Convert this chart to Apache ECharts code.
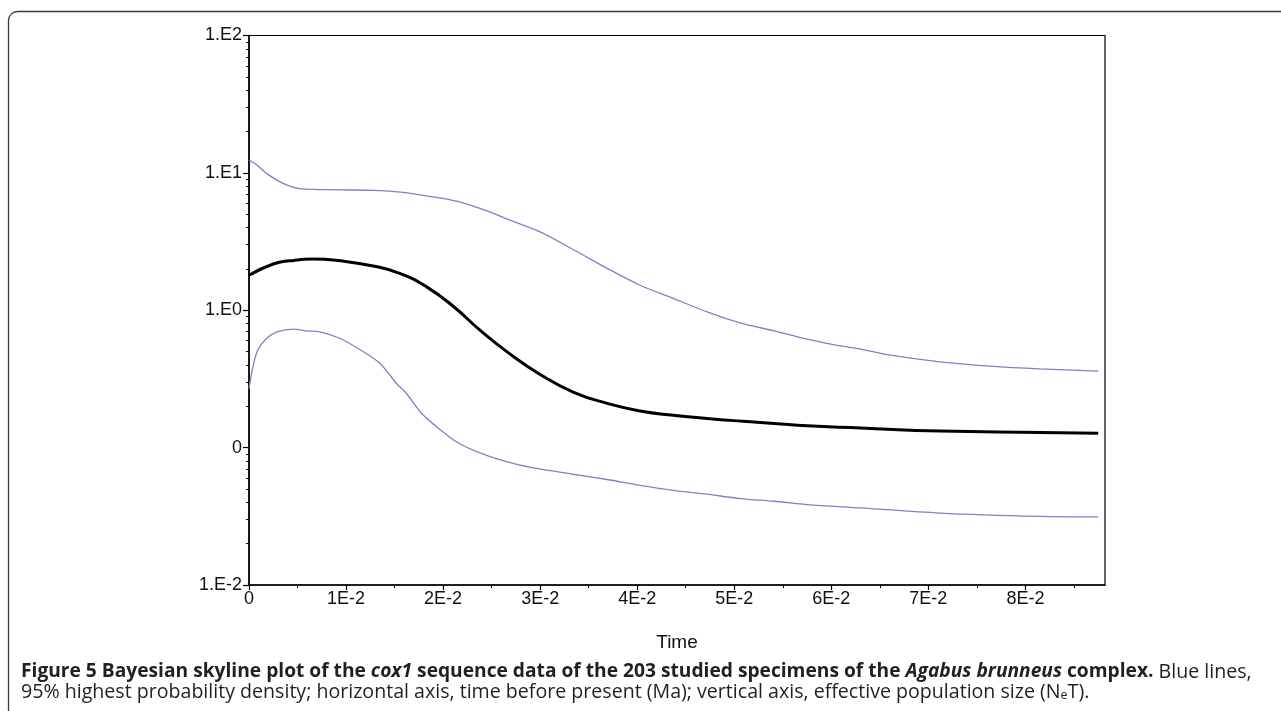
<!DOCTYPE html>
<html>
<head>
<meta charset="utf-8">
<script src="https://cdn.jsdelivr.net/npm/echarts@6/dist/echarts.min.js"></script>
<style>
  html, body { margin: 0; padding: 0; background: #fff; }
  #chart { width: 1281px; height: 711px; }
</style>
</head>
<body>
<div id="chart"></div>
<script>
// upper 95% HPD (blue)
const upperTime = [0, 0.0008, 0.0018, 0.0035, 0.0054, 0.0094, 0.0128, 0.0156, 0.0183, 0.0214, 0.0248, 0.0266, 0.0300, 0.0334, 0.0369, 0.0403, 0.0437, 0.0472, 0.0506, 0.0541, 0.0575, 0.0602, 0.0630, 0.0661, 0.0712, 0.0764, 0.0815, 0.0875]
const upperNe = [12.4, 11.4, 9.92, 8.39, 7.66, 7.53, 7.46, 7.25, 6.81, 6.23, 5.21, 4.61, 3.72, 2.77, 2.02, 1.52, 1.22, 0.974, 0.810, 0.708, 0.616, 0.563, 0.521, 0.471, 0.421, 0.392, 0.374, 0.360]

// median (black)
const medianTime = [0, 0.0025, 0.0042, 0.0066, 0.0094, 0.0128, 0.0156, 0.0183, 0.0211, 0.0238, 0.0266, 0.0300, 0.0334, 0.0369, 0.0403, 0.0437, 0.0472, 0.0506, 0.0541, 0.0575, 0.0630, 0.0712, 0.0815, 0.0875]
const medianNe = [1.80, 2.17, 2.29, 2.36, 2.29, 2.10, 1.85, 1.48, 1.06, 0.716, 0.498, 0.341, 0.254, 0.210, 0.185, 0.172, 0.163, 0.156, 0.150, 0.144, 0.139, 0.132, 0.129, 0.127]

// lower 95% HPD (blue)
const lowerTime = [0, 0.0004, 0.0009, 0.0018, 0.0029, 0.0046, 0.0059, 0.0073, 0.0094, 0.0114, 0.0135, 0.0152, 0.0161, 0.0178, 0.0197, 0.0214, 0.0238, 0.0266, 0.0293, 0.0334, 0.0369, 0.0403, 0.0437, 0.0472, 0.0506, 0.0541, 0.0575, 0.0630, 0.0712, 0.0815, 0.0875]
const lowerNe = [0.269, 0.387, 0.512, 0.623, 0.696, 0.728, 0.708, 0.696, 0.623, 0.518, 0.410, 0.293, 0.254, 0.177, 0.135, 0.110, 0.0915, 0.0787, 0.0711, 0.0640, 0.0586, 0.0532, 0.0489, 0.0458, 0.0426, 0.0407, 0.0385, 0.0364, 0.0334, 0.0316, 0.0313]

// axis ticks
const xTickValues = [0, 0.01, 0.02, 0.03, 0.04, 0.05, 0.06, 0.07, 0.08]
const xTickLabels = ['0', '1E-2', '2E-2', '3E-2', '4E-2', '5E-2', '6E-2', '7E-2', '8E-2']
const xMinorTicks = [0.005, 0.015, 0.025, 0.035, 0.045, 0.055, 0.065, 0.075, 0.085]
const yTickValues = [0.01, 0.1, 1, 10, 100]
const yTickLabels = ['1.E-2', '0', '1.E0', '1.E1', '1.E2']
const yMinorTicks = [0.02, 0.03, 0.04, 0.05, 0.06, 0.07, 0.08, 0.09,
  0.2, 0.3, 0.4, 0.5, 0.6, 0.7, 0.8, 0.9,
  2, 3, 4, 5, 6, 7, 8, 9,
  20, 30, 40, 50, 60, 70, 80, 90]

const captionLine1 = '{b|Figure 5 Bayesian skyline plot of the }{bi|cox1}{b| sequence data of the 203 studied specimens of the }{bi|Agabus brunneus}{b| complex.}{r| Blue lines,}'
const captionLine2 = '{r|95% highest probability density; horizontal axis, time before present (Ma); vertical axis, effective population size (N}{sub|e}{r|T).}'

const pairs = (xs, ys) => xs.map((x, i) => [x, ys[i]])

const axisFont = 'Liberation Sans, Arial, sans-serif'
const capFont = 'Open Sans, sans-serif'
const X_MAX = 0.0882

const chart = echarts.init(document.getElementById('chart'))
chart.setOption({
  animation: false,
  backgroundColor: '#fff',
  title: {
    left: 16,
    top: 657,
    text: captionLine1 + '\n' + captionLine2,
    textStyle: {
      fontWeight: 'normal',
      lineHeight: 20,
      rich: {
        b: { fontFamily: capFont, fontSize: 19.2, fontWeight: 'bold', color: '#231f20', lineHeight: 20 },
        bi: { fontFamily: capFont, fontSize: 19.2, fontWeight: 'bold', fontStyle: 'italic', color: '#231f20', lineHeight: 20 },
        r: { fontFamily: capFont, fontSize: 19.6, fontWeight: 'normal', color: '#231f20', lineHeight: 20 },
        sub: { fontFamily: capFont, fontSize: 12.5, fontWeight: 'normal', color: '#231f20', lineHeight: 12, verticalAlign: 'bottom' }
      }
    }
  },
  graphic: [{
    type: 'rect',
    silent: true,
    shape: { x: 8.5, y: 11.5, width: 1400, height: 900, r: 9 },
    style: { fill: 'none', stroke: '#3a3a3a', lineWidth: 1.3 }
  }],
  grid: {
    left: 249,
    right: 176,
    top: 35.5,
    bottom: 126,
    show: true,
    borderColor: '#000',
    borderWidth: 1.2
  },
  xAxis: [{
    type: 'value',
    min: 0,
    max: X_MAX,
    name: 'Time',
    nameLocation: 'middle',
    nameGap: 48,
    nameTextStyle: { fontFamily: axisFont, fontSize: 19, color: '#111' },
    splitLine: { show: false },
    axisLine: { show: true, onZero: false, lineStyle: { color: '#000', width: 1.5 } },
    axisTick: { show: true, length: 5, customValues: xTickValues, lineStyle: { color: '#000', width: 1.2 } },
    axisLabel: {
      customValues: xTickValues,
      margin: 5,
      fontFamily: axisFont,
      fontSize: 18,
      color: '#111',
      formatter: v => xTickLabels[xTickValues.findIndex(t => Math.abs(t - v) < 1e-9)]
    }
  }, {
    type: 'value',
    min: 0,
    max: X_MAX,
    position: 'bottom',
    splitLine: { show: false },
    axisLine: { show: false },
    axisTick: { show: true, length: 3, customValues: xMinorTicks, lineStyle: { color: '#000', width: 1 } },
    axisLabel: { show: false }
  }],
  yAxis: [{
    type: 'log',
    logBase: 10,
    min: 0.01,
    max: 100,
    splitLine: { show: false },
    axisLine: { show: true, lineStyle: { color: '#000', width: 1.5 } },
    axisTick: { show: true, length: 6, lineStyle: { color: '#000', width: 1.2 } },
    axisLabel: {
      margin: 7,
      fontFamily: axisFont,
      fontSize: 18,
      color: '#111',
      formatter: v => {
        const i = yTickValues.findIndex(t => Math.abs(Math.log10(t) - Math.log10(v)) < 1e-6)
        return i < 0 ? '' : yTickLabels[i]
      }
    }
  }, {
    type: 'log',
    logBase: 10,
    min: 0.01,
    max: 100,
    position: 'left',
    splitLine: { show: false },
    axisLine: { show: false },
    axisTick: { show: true, length: 3, customValues: yMinorTicks, lineStyle: { color: '#000', width: 1 } },
    axisLabel: { show: false }
  }],
  series: [{
    name: 'upper',
    type: 'line',
    data: pairs(upperTime, upperNe),
    showSymbol: false,
    smooth: 0.3,
    lineStyle: { color: '#7a83c6', width: 1.3 }
  }, {
    name: 'median',
    type: 'line',
    data: pairs(medianTime, medianNe),
    showSymbol: false,
    smooth: 0.5,
    lineStyle: { color: '#000', width: 3 }
  }, {
    name: 'lower',
    type: 'line',
    data: pairs(lowerTime, lowerNe),
    showSymbol: false,
    smooth: 0.3,
    lineStyle: { color: '#7a83c6', width: 1.3 }
  }]
})
</script>
</body>
</html>
